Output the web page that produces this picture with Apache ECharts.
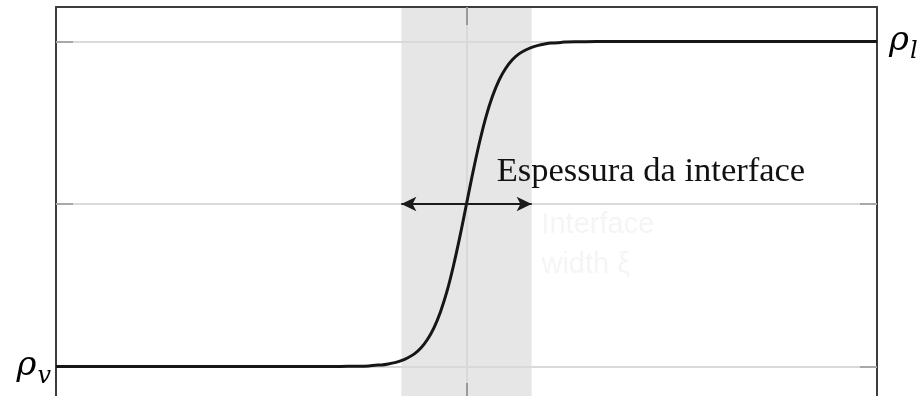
<!DOCTYPE html>
<html>
<head>
<meta charset="utf-8">
<script src="https://cdn.jsdelivr.net/npm/echarts@6/dist/echarts.min.js"></script>
<style>
  html, body { margin: 0; padding: 0; background: #fff; }
  #chart { width: 924px; height: 396px; }
</style>
</head>
<body>
<div id="chart"></div>
<script>
// Density profile across a liquid–vapour interface (x in units of the interface width)
const positions = [-12.6, -8, -6, -5, -4, -3.5,
  -3, -2.8, -2.6, -2.4, -2.2, -2, -1.8, -1.6, -1.4, -1.2, -1, -0.8, -0.6, -0.4, -0.2,
  0, 0.2, 0.4, 0.6, 0.8, 1, 1.2, 1.4, 1.6, 1.8, 2, 2.2, 2.4, 2.6, 2.8, 3,
  3.5, 4, 5, 6, 8, 12.6];
const density = [0, 0, 0, 0, 0, 0.001,
  0.002, 0.004, 0.005, 0.008, 0.012, 0.018, 0.027, 0.039, 0.057, 0.083, 0.119, 0.168, 0.231, 0.31, 0.401,
  0.5, 0.599, 0.69, 0.769, 0.832, 0.881, 0.917, 0.943, 0.961, 0.973, 0.982, 0.988, 0.992, 0.995, 0.996, 0.998,
  0.999, 1, 1, 1, 1, 1];

// Shaded interface band and arrow extent
const bandEdges = [-2, 2];
const arrowLevel = 0.5;

// Axis marks and labels
const xTicks = [0];
const yTicks = [0, 0.5, 1];
const vapourLabel = '{r|ρ}{s|v}';
const liquidLabel = '{r|ρ}{s|l}';
const annotationText = 'Espessura da interface';
const annotationAt = [5.66, 0.6];
const hiddenNote = 'Interface\nwidth ξ';
const hiddenNoteAt = [2.3, 0.375];

const serif = '"Liberation Serif", "DejaVu Serif", serif';
const mathFont = '"DejaVu Serif", "Liberation Serif", serif';
const rhoRich = {
  r: { fontFamily: mathFont, fontStyle: 'italic', fontSize: 34, color: '#000', lineHeight: 40 },
  s: { fontFamily: mathFont, fontStyle: 'italic', fontSize: 24, color: '#000', padding: [20, 0, 0, 1], lineHeight: 22 }
};

const chart = echarts.init(document.getElementById('chart'), null, { renderer: 'canvas' });

const borderLine = { show: true, onZero: false, lineStyle: { color: '#3c3c3c', width: 2 } };
const gridLine = { show: true, lineStyle: { color: '#d9d9d9', width: 2 } };

chart.setOption({
  animation: false,
  backgroundColor: '#fff',
  grid: { left: 56, right: 47, top: 7, height: 394, containLabel: false, outerBoundsMode: 'none' },
  xAxis: [
    {
      type: 'value', position: 'bottom', min: -12.6, max: 12.6, z: 2,
      axisLine: borderLine,
      axisTick: { show: true, inside: true, length: 18, customValues: xTicks, lineStyle: { color: '#9a9a9a', width: 2 } },
      axisLabel: { show: false },
      splitLine: gridLine
    },
    {
      type: 'value', position: 'top', min: -12.6, max: 12.6, z: 2,
      axisLine: borderLine,
      axisTick: { show: true, inside: true, length: 18, customValues: xTicks, lineStyle: { color: '#9a9a9a', width: 2 } },
      axisLabel: { show: false },
      splitLine: { show: false }
    }
  ],
  yAxis: [
    {
      type: 'value', position: 'left', min: -0.106, max: 1.106, z: 2,
      axisLine: borderLine,
      axisTick: { show: true, inside: true, length: 17, customValues: yTicks, lineStyle: { color: '#a8a8a8', width: 2 } },
      axisLabel: {
        show: true, customValues: [0], margin: 5,
        formatter: () => vapourLabel, rich: rhoRich
      },
      splitLine: gridLine
    },
    {
      type: 'value', position: 'right', min: -0.106, max: 1.106, z: 2,
      axisLine: borderLine,
      axisTick: { show: true, inside: true, length: 17, customValues: yTicks, lineStyle: { color: '#a8a8a8', width: 2 } },
      axisLabel: {
        show: true, customValues: [1], margin: 12,
        formatter: () => liquidLabel, rich: rhoRich
      },
      splitLine: { show: false }
    }
  ],
  series: [
    {
      // interface band, drawn beneath the grid lines
      type: 'line', data: [], z: 0, silent: true,
      markArea: {
        silent: true,
        z: 0,
        itemStyle: { color: '#e6e6e6' },
        data: [[{ xAxis: bandEdges[0] }, { xAxis: bandEdges[1] }]]
      }
    },
    {
      type: 'line',
      data: positions.map((x, i) => [x, density[i]]),
      smooth: 0.3,
      showSymbol: false,
      symbol: 'none',
      z: 3,
      lineStyle: { color: '#161616', width: 3 },
      markLine: {
        silent: true,
        z: 4,
        symbol: ['arrow', 'arrow'],
        symbolSize: [11, 15],
        label: { show: false },
        lineStyle: { color: '#1a1a1a', width: 2, type: 'solid' },
        data: [[{ coord: [bandEdges[0], arrowLevel] }, { coord: [bandEdges[1], arrowLevel] }]]
      },
      markPoint: {
        silent: true,
        z: 4,
        symbol: 'circle',
        symbolSize: 0,
        data: [
          {
            coord: annotationAt,
            label: {
              show: true, position: 'inside', formatter: annotationText,
              fontFamily: serif, fontSize: 34.5, color: '#111'
            }
          },
          {
            coord: hiddenNoteAt,
            label: {
              show: true, position: 'right', formatter: hiddenNote, distance: 0,
              fontFamily: '"Liberation Sans", Arial, sans-serif', fontSize: 29, lineHeight: 40,
              color: '#f5f5f5'
            }
          }
        ]
      }
    }
  ]
});
</script>
</body>
</html>
